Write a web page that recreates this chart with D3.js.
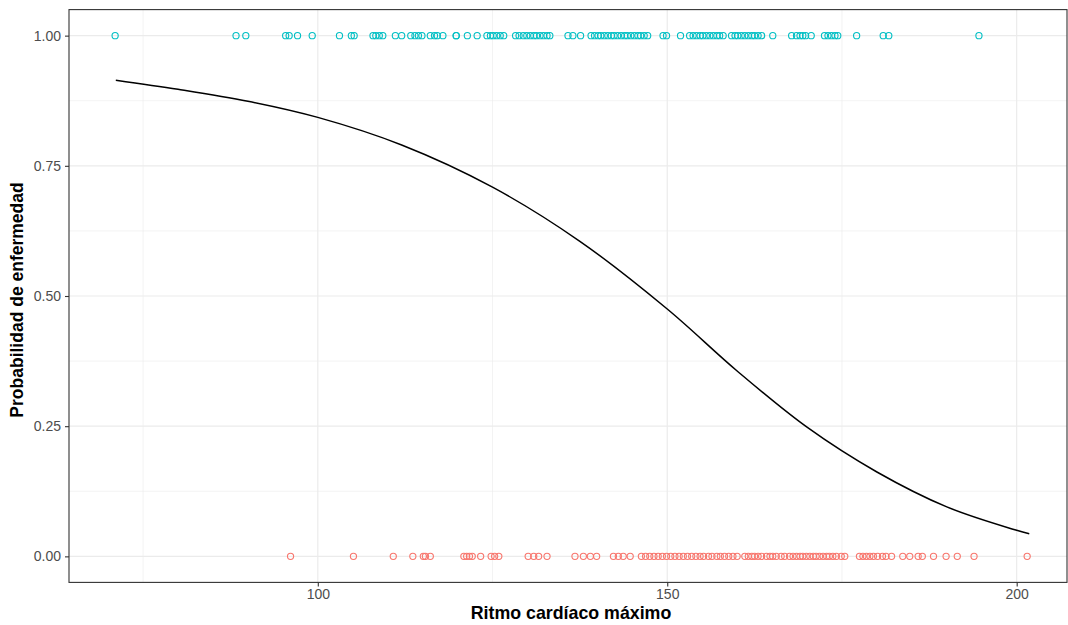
<!DOCTYPE html>
<html>
<head>
<meta charset="utf-8">
<script src="https://cdn.jsdelivr.net/npm/d3@7"></script>
<style>
  html, body { margin: 0; padding: 0; background: #ffffff; }
  svg { display: block; font-family: "Liberation Sans", Arial, Helvetica, sans-serif; }
</style>
</head>
<body>
<svg id="chart" width="1068" height="625"></svg>
<script>
// Observed maximum heart rates, patients coded 1 (top row)
const enfermos = [
  71.0, 88.3, 89.7, 95.4, 95.9, 97.1, 99.2, 103.1, 104.8, 105.2,
  107.9, 108.3, 108.8, 109.3, 111.1, 112.0, 113.3, 113.9, 114.4, 114.9,
  116.1, 116.7, 117.1, 117.9, 119.8, 119.8, 121.4, 122.8, 124.2, 124.7,
  125.1, 125.6, 126.1, 126.6, 128.3, 128.8, 129.4, 129.9, 130.4, 130.9,
  131.3, 131.8, 132.3, 132.8, 133.2, 135.8, 136.5, 137.6, 139.1, 139.6,
  140.1, 140.5, 141.0, 141.5, 142.0, 142.4, 142.9, 143.4, 143.9, 144.3,
  144.8, 145.3, 145.8, 146.2, 146.7, 147.2, 149.4, 149.9, 151.9, 153.2,
  153.7, 154.2, 154.7, 155.1, 155.6, 156.1, 156.6, 157.1, 157.5, 158.0,
  159.2, 159.7, 160.1, 160.6, 161.1, 161.6, 162.1, 162.5, 163.0, 163.5,
  165.1, 167.8, 168.5, 169.0, 169.4, 169.8, 170.6, 172.5, 173.0, 173.5,
  174.0, 174.4, 177.1, 180.9, 181.7, 194.6
];

// Observed maximum heart rates, patients coded 0 (bottom row)
const sanos = [
  96.1, 105.1, 110.8, 113.6, 115.1, 115.4, 116.1, 120.9, 121.3, 121.7,
  122.1, 123.3, 124.8, 125.3, 125.9, 130.1, 130.9, 131.6, 132.8, 136.8,
  138.0, 139.0, 139.9, 142.3, 143.0, 143.7, 144.7, 146.3, 146.9, 147.5,
  148.1, 148.7, 149.3, 149.9, 150.5, 151.1, 151.7, 152.3, 152.9, 153.5,
  154.1, 154.7, 155.2, 155.9, 156.4, 157.1, 157.6, 158.2, 158.8, 159.4,
  160.0, 161.1, 161.6, 162.1, 162.5, 163.0, 163.5, 164.2, 164.7, 165.1,
  165.6, 166.3, 166.8, 167.5, 168.0, 168.5, 169.0, 169.4, 169.9, 170.4,
  170.9, 171.3, 171.8, 172.3, 172.8, 173.2, 173.7, 174.2, 174.9, 175.4,
  177.5, 178.0, 178.5, 179.0, 179.5, 180.1, 180.8, 181.3, 182.1, 183.7,
  184.7, 185.9, 186.5, 188.1, 189.9, 191.5, 193.9, 201.5
];

// Fitted probability curve
const curvaX = [71.1, 80, 90, 100, 112, 125, 137.5, 150, 160, 170, 180, 190, 200, 201.8];
const curvaP = [0.9145, 0.897, 0.874, 0.843, 0.790, 0.709, 0.605, 0.475, 0.356, 0.248, 0.162, 0.095, 0.050, 0.0434];

const xTicks = [100, 150, 200];
const xMinor = [75, 125, 175];
const yTicks = [0, 0.25, 0.5, 0.75, 1];
const yMinor = [0.125, 0.375, 0.625, 0.875];

const colorEnfermo = "#00BFC4";
const colorSano = "#F8766D";

const svg = d3.select("#chart");
const panel = { left: 69, right: 1067, top: 9.6, bottom: 582.4 };

const x = d3.scaleLinear().domain([64.4, 207.2]).range([panel.left, panel.right]);
const y = d3.scaleLinear().domain([-0.05, 1.05]).range([panel.bottom, panel.top]);

// panel background
svg.append("rect")
  .attr("x", panel.left).attr("y", panel.top)
  .attr("width", panel.right - panel.left).attr("height", panel.bottom - panel.top)
  .attr("fill", "#ffffff");

const grid = svg.append("g");
// minor grid
grid.selectAll("line.xm").data(xMinor).join("line")
  .attr("x1", d => x(d)).attr("x2", d => x(d))
  .attr("y1", panel.top).attr("y2", panel.bottom)
  .attr("stroke", "#ebebeb").attr("stroke-width", 0.6);
grid.selectAll("line.ym").data(yMinor).join("line")
  .attr("y1", d => y(d)).attr("y2", d => y(d))
  .attr("x1", panel.left).attr("x2", panel.right)
  .attr("stroke", "#ebebeb").attr("stroke-width", 0.6);
// major grid
grid.selectAll("line.xM").data(xTicks).join("line")
  .attr("x1", d => x(d)).attr("x2", d => x(d))
  .attr("y1", panel.top).attr("y2", panel.bottom)
  .attr("stroke", "#ebebeb").attr("stroke-width", 1.2);
grid.selectAll("line.yM").data(yTicks).join("line")
  .attr("y1", d => y(d)).attr("y2", d => y(d))
  .attr("x1", panel.left).attr("x2", panel.right)
  .attr("stroke", "#ebebeb").attr("stroke-width", 1.2);

// points
const pts = svg.append("g");
pts.selectAll("circle.e").data(enfermos).join("circle")
  .attr("cx", d => x(d)).attr("cy", y(1)).attr("r", 3.1)
  .attr("fill", "none").attr("stroke", colorEnfermo).attr("stroke-width", 1.1);
pts.selectAll("circle.s").data(sanos).join("circle")
  .attr("cx", d => x(d)).attr("cy", y(0)).attr("r", 3.1)
  .attr("fill", "none").attr("stroke", colorSano).attr("stroke-width", 1.1);

// fitted curve
const curva = curvaX.map((v, i) => [v, curvaP[i]]);
svg.append("path")
  .datum(curva)
  .attr("d", d3.line().x(d => x(d[0])).y(d => y(d[1])).curve(d3.curveCatmullRom.alpha(0.5)))
  .attr("fill", "none").attr("stroke", "#000000").attr("stroke-width", 1.5);

// panel border
svg.append("rect")
  .attr("x", panel.left).attr("y", panel.top)
  .attr("width", panel.right - panel.left).attr("height", panel.bottom - panel.top)
  .attr("fill", "none").attr("stroke", "#333333").attr("stroke-width", 1.1);

// axes
const xAxis = svg.append("g")
  .attr("transform", `translate(0,${panel.bottom})`)
  .call(d3.axisBottom(x).tickValues(xTicks).tickSize(4).tickPadding(3).tickFormat(d3.format("d")));
const yAxis = svg.append("g")
  .attr("transform", `translate(${panel.left},0)`)
  .call(d3.axisLeft(y).tickValues(yTicks).tickSize(4).tickPadding(4).tickFormat(d3.format(".2f")));

[xAxis, yAxis].forEach(g => {
  g.select(".domain").remove();
  g.selectAll(".tick line").attr("stroke", "#333333").attr("stroke-width", 1.1);
  g.selectAll(".tick text").attr("fill", "#4d4d4d").style("font-size", "14px")
    .style("font-family", "'Liberation Sans', Arial, sans-serif");
});

// axis titles
svg.append("text")
  .attr("x", (panel.left + panel.right) / 2 + 3).attr("y", 619)
  .attr("text-anchor", "middle")
  .style("font-size", "17.8px").style("font-weight", "bold").attr("fill", "#000")
  .text("Ritmo cardíaco máximo");

svg.append("text")
  .attr("transform", `translate(23,${(panel.top + panel.bottom) / 2 + 4}) rotate(-90)`)
  .attr("text-anchor", "middle")
  .style("font-size", "17.5px").style("font-weight", "bold").attr("fill", "#000")
  .text("Probabilidad de enfermedad");
</script>
</body>
</html>
